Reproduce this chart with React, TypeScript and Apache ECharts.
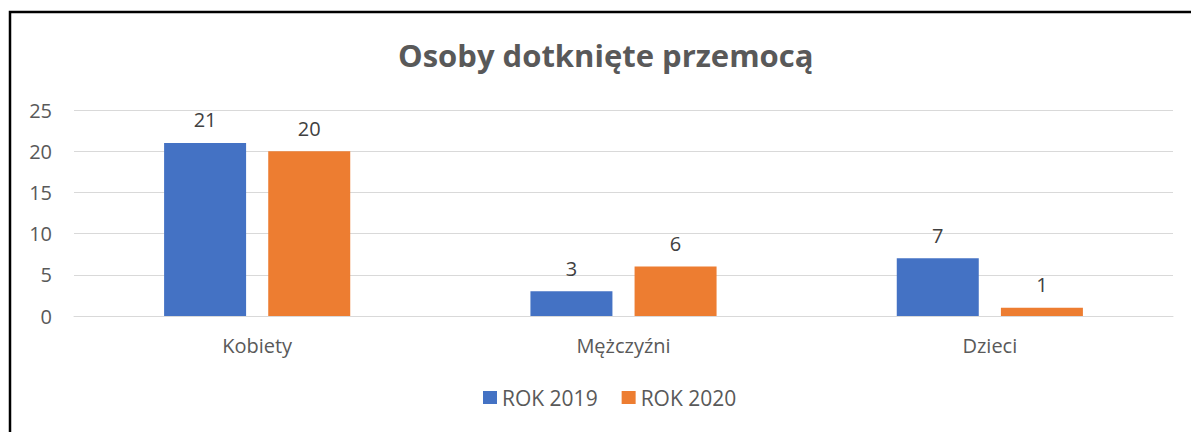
import React, { useEffect, useRef } from "react";
import * as echarts from "echarts";

const categories = ["Kobiety", "Mężczyźni", "Dzieci"];
const series2019 = [21, 3, 7];
const series2020 = [20, 6, 1];
const seriesNames = ["ROK 2019", "ROK 2020"];
const titleText = "Osoby dotknięte przemocą";

const FONT = "'Open Sans', 'Noto Sans', sans-serif";

export default function App() {
  const ref = useRef<HTMLDivElement>(null);
  useEffect(() => {
    if (!ref.current) return;
    const chart = echarts.init(ref.current, undefined, { renderer: "svg" });
    const labelStyle = {
      show: true,
      position: "top" as const,
      distance: 13,
      color: "#404040",
      fontSize: 20,
      fontFamily: FONT,
    };
    chart.setOption({
      animation: false,
      backgroundColor: "#ffffff",
      title: {
        text: titleText,
        left: 393,
        top: 34,
        textStyle: { color: "#595959", fontSize: 31, fontWeight: "bold", fontFamily: FONT },
      },
      graphic: [
        {
          type: "rect",
          shape: { x: 10, y: 12, width: 1250, height: 500 },
          style: { fill: "none", stroke: "#000000", lineWidth: 2.5 },
          silent: true,
        },
      ],
      legend: {
        data: seriesNames,
        bottom: 19,
        left: 478,
        itemWidth: 14,
        itemHeight: 13,
        itemGap: 24,
        icon: "rect",
        textStyle: { color: "#595959", fontSize: 21, fontFamily: FONT },
      },
      grid: { left: 74, right: 18, top: 110, bottom: 116, containLabel: false },
      xAxis: {
        type: "category",
        data: categories,
        axisLine: { lineStyle: { color: "#d9d9d9", width: 1 } },
        axisTick: { show: false },
        axisLabel: { color: "#595959", fontSize: 20, fontFamily: FONT, margin: 19 },
      },
      yAxis: {
        type: "value",
        min: 0,
        max: 25,
        interval: 5,
        axisLine: { show: false },
        axisTick: { show: false },
        splitLine: { lineStyle: { color: "#d9d9d9", width: 1 } },
        axisLabel: { color: "#595959", fontSize: 20, fontFamily: FONT, margin: 22 },
      },
      series: [
        {
          name: seriesNames[0],
          type: "bar",
          data: series2019,
          barWidth: 82,
          barGap: "27%",
          itemStyle: { color: "#4472C4" },
          label: labelStyle,
        },
        {
          name: seriesNames[1],
          type: "bar",
          data: series2020,
          barWidth: 82,
          itemStyle: { color: "#ED7D31" },
          label: labelStyle,
        },
      ],
    });
    return () => chart.dispose();
  }, []);
  return (
    <div
      ref={ref}
      style={{ position: "absolute", left: 0, top: 0, width: 1191, height: 432 }}
    />
  );
}
